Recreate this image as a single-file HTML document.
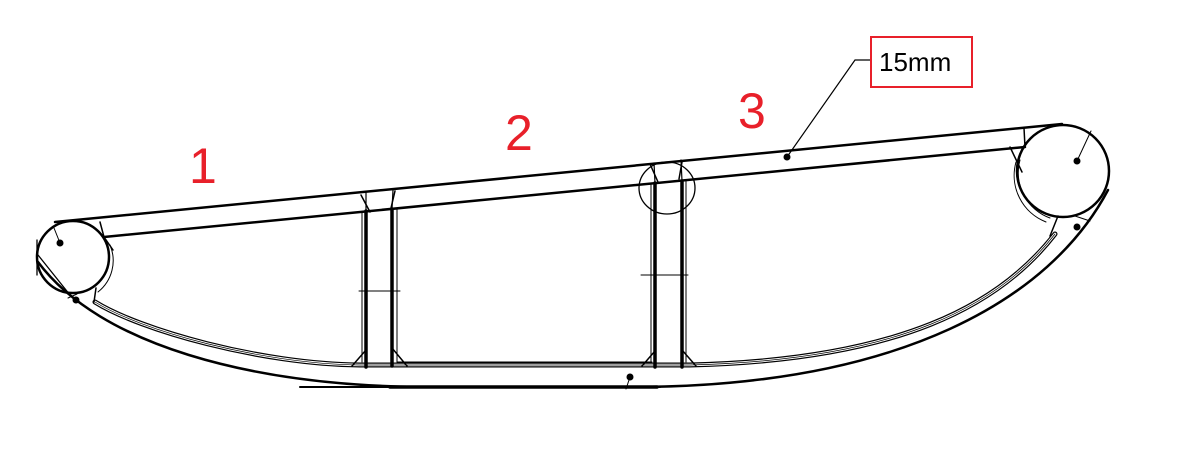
<!DOCTYPE html>
<html><head><meta charset="utf-8"><style>
html,body{margin:0;padding:0;background:#fff;width:1178px;height:472px;overflow:hidden}
svg{display:block}
</style></head><body>
<svg width="1178" height="472" viewBox="0 0 1178 472" xmlns="http://www.w3.org/2000/svg" font-family="Liberation Sans, sans-serif">
<g fill="none" stroke="#000" stroke-linecap="round">
  <line x1="55" y1="222" x2="1062" y2="124" stroke-width="2.5"/>
  <line x1="104" y1="237" x2="1025" y2="147" stroke-width="2.5"/>
  <line x1="100" y1="222" x2="104" y2="237" stroke-width="1.5"/>
  <line x1="1024" y1="128" x2="1025" y2="147" stroke-width="1.5"/>
  <circle cx="73" cy="257" r="36" stroke-width="2.5"/>
  <circle cx="1063" cy="171" r="46" stroke-width="2.5"/>
  <path d="M110,245 A40,40 0 0 1 98,292" stroke-width="1"/>
  <path d="M1020,160 A48,48 0 0 0 1050,218" stroke-width="1"/>
  <path d="M1016,162 A50,50 0 0 0 1046,222" stroke-width="1"/>
  <path d="M38,262 C100,345 250,385 420,387 L640,387 C900,385 1050,300 1108,190" stroke-width="2.5"/>
  <g>
    <path d="M95,302 C140,330 260,364 360,365 L655,365 L690,365 C900,360 1000,305 1055,234" stroke-width="5"/>
    <path d="M95,302 C140,330 260,364 360,365 L655,365 L690,365 C900,360 1000,305 1055,234" stroke="#fff" stroke-width="2.6"/>
    <path d="M95,302 C140,330 260,364 360,365 L655,365 L690,365 C900,360 1000,305 1055,234" stroke-width="0.7"/>
  </g>
  <line x1="300" y1="387" x2="660" y2="387" stroke-width="2"/>
  <line x1="390" y1="387" x2="657" y2="387" stroke-width="3.5"/>
  <g>
    <line x1="366" y1="211" x2="366" y2="367" stroke-width="3.5"/>
    <line x1="392" y1="209" x2="392" y2="366" stroke-width="3.5"/>
    <line x1="362" y1="212" x2="362" y2="362" stroke-width="1"/>
    <line x1="397" y1="209" x2="397" y2="362" stroke-width="1"/>
    <line x1="397" y1="362" x2="652" y2="362" stroke-width="1"/>
    <line x1="359" y1="291" x2="400" y2="291" stroke-width="1"/>
    <line x1="366" y1="192" x2="366" y2="211" stroke-width="1.2"/>
    <line x1="393" y1="190" x2="392" y2="209" stroke-width="1.2"/>
    <path d="M361,195 L370,212 M395,191 L391,208" stroke-width="1.5"/>
    <path d="M366,350 L352,366 M392,348 L407,366" stroke-width="1.5"/>
  </g>
  <g>
    <line x1="655" y1="183" x2="655" y2="367" stroke-width="3.5"/>
    <line x1="682" y1="181" x2="682" y2="367" stroke-width="3.5"/>
    <line x1="651" y1="184" x2="651" y2="362" stroke-width="1"/>
    <line x1="686" y1="181" x2="686" y2="362" stroke-width="1"/>
    <line x1="641" y1="275" x2="688" y2="275" stroke-width="1"/>
    <line x1="654" y1="163" x2="655" y2="183" stroke-width="1.2"/>
    <line x1="681" y1="160" x2="682" y2="181" stroke-width="1.2"/>
    <path d="M650,164 L658,182 M682,162 L679,179" stroke-width="1.5"/>
    <path d="M655,351 L642,366 M682,350 L696,366" stroke-width="1.5"/>
    <ellipse cx="667" cy="188" rx="28" ry="26" stroke-width="1.3"/>
  </g>
  <path d="M104,237 L113,250 M94,302 L96,288" stroke-width="1.5"/>
  <path d="M1010,147 L1022,172 M1050,236 L1058,216" stroke-width="1.5"/>
  <line x1="38" y1="255" x2="70" y2="295" stroke-width="1.3"/>
  <line x1="37" y1="240" x2="37" y2="275" stroke-width="1.3"/>
  <line x1="68" y1="298" x2="77" y2="294" stroke-width="1"/>
  <line x1="60" y1="243" x2="54" y2="228" stroke-width="1"/>
  <line x1="1077" y1="161" x2="1091" y2="131" stroke-width="1"/>
  <line x1="1075" y1="216" x2="1090" y2="221" stroke-width="1"/>
  <line x1="630" y1="377" x2="626" y2="389" stroke-width="1"/>
  <polyline points="787,157 855,60 871,60" stroke-width="1.2"/>
</g>
<g fill="#000">
  <circle cx="60" cy="243" r="3.5"/>
  <circle cx="76" cy="300" r="3.5"/>
  <circle cx="1077" cy="161" r="3.5"/>
  <circle cx="1077" cy="227" r="3.5"/>
  <circle cx="630" cy="377" r="3.5"/>
  <circle cx="787" cy="157" r="3.5"/>
</g>
<g fill="#e8202a" font-size="50">
  <text x="189" y="183">1</text>
  <text x="505" y="150">2</text>
  <text x="738" y="128">3</text>
</g>
<rect x="871" y="37" width="101" height="50" fill="#fff" stroke="#e8202a" stroke-width="2"/>
<text x="879" y="71" font-size="26" fill="#000">15mm</text>
</svg>
</body></html>
